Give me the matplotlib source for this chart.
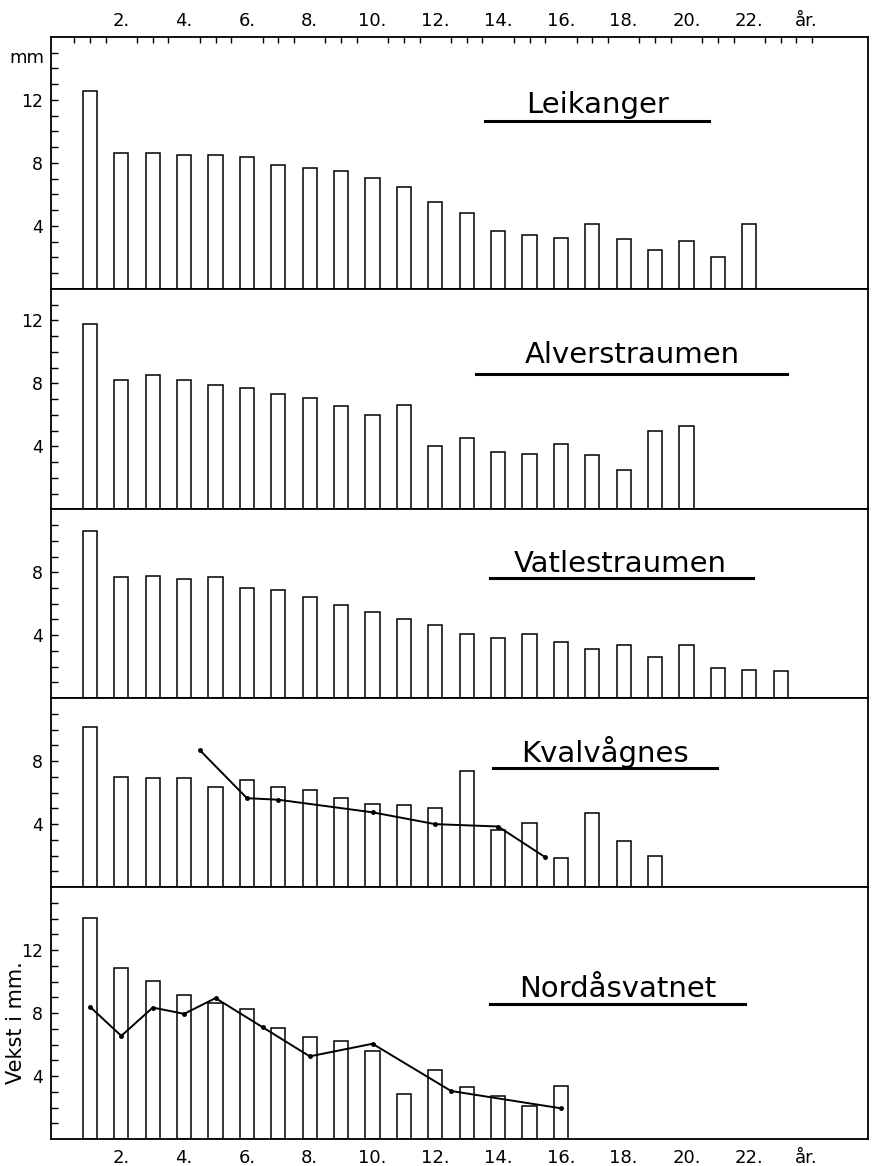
import matplotlib.pyplot as plt
from matplotlib.lines import Line2D
import numpy as np

# growth per year (mm)
leikanger = [12.6, 8.6, 8.6, 8.5, 8.5, 8.4, 7.85, 7.65, 7.5, 7.05, 6.5, 5.5, 4.85,
             3.7, 3.4, 3.25, 4.1, 3.2, 2.45, 3.05, 2.05, 4.15]
alverstraumen = [11.8, 8.2, 8.55, 8.2, 7.9, 7.7, 7.3, 7.05, 6.55, 6.0, 6.6, 4.0,
                 4.55, 3.65, 3.5, 4.15, 3.45, 2.5, 5.0, 5.3]
vatlestraumen = [10.6, 7.7, 7.75, 7.6, 7.7, 7.0, 6.85, 6.4, 5.9, 5.45, 5.0, 4.65,
                 4.1, 3.85, 4.05, 3.6, 3.1, 3.4, 2.6, 3.35, 1.9, 1.8, 1.7]
kvalvagnes = [10.2, 7.0, 6.9, 6.9, 6.35, 6.8, 6.35, 6.15, 5.65, 5.3, 5.2, 5.05,
              7.4, 3.6, 4.1, 1.85, 4.7, 2.9, 2.0]
nordasvatnet = [14.05, 10.85, 10.05, 9.15, 8.65, 8.25, 7.05, 6.5, 6.25, 5.6, 2.85,
                4.4, 3.3, 2.75, 2.1, 3.35]

# the drawn curves in two of the panels
kval_line_x = [4.5, 6, 7, 10, 12, 14, 15.5]
kval_line_y = [8.7, 5.65, 5.55, 4.75, 4.0, 3.85, 1.9]
nord_line_x = [1, 2, 3, 4, 5, 6.5, 8, 10, 12.5, 16]
nord_line_y = [8.4, 6.55, 8.35, 7.95, 8.95, 7.1, 5.25, 6.05, 3.05, 1.95]

names = ['Leikanger', 'Alverstraumen', 'Vatlestraumen', 'Kvalvågnes', 'Nordåsvatnet']
series = [leikanger, alverstraumen, vatlestraumen, kvalvagnes, nordasvatnet]
ytops = [16, 14, 12, 12, 16]

year_ticks = list(range(2, 23, 2)) + [23.8]
year_labels = [f'{y}.' for y in range(2, 23, 2)] + ['år.']

# title placement in figure pixels: centre x, baseline y, underline x0, x1, y
title_pos = [
    (598, 113, 485, 709, 121),
    (632, 363, 476, 787, 374),
    (620, 572, 490, 753, 578),
    (605, 762, 493, 717, 768),
    (618, 997, 490, 745, 1004),
]

W, H = 874, 1166
fig = plt.figure(figsize=(W / 100, H / 100), dpi=100)
gs = fig.add_gridspec(5, 1, height_ratios=ytops, hspace=0,
                      left=51 / W, right=868 / W, top=1 - 37 / H, bottom=1 - 1139 / H)

axes = []
for i, (vals, top) in enumerate(zip(series, ytops)):
    ax = fig.add_subplot(gs[i])
    x = np.arange(1, len(vals) + 1)
    ax.bar(x, vals, width=0.45, color='white', edgecolor='black', linewidth=1.1)

    ax.set_xlim(-0.24, 25.78)
    ax.set_ylim(0, top)

    # y ticks: labels every 4 mm, small marks every mm
    ax.set_yticks([v for v in (4, 8, 12) if v < top])
    ax.set_yticks(np.arange(1, top), minor=True)
    ax.tick_params(axis='y', which='both', direction='in', length=5, width=1,
                   left=True, right=False, labelsize=12.5, pad=5.5)

    for sp in ax.spines.values():
        sp.set_linewidth(1.3)
    axes.append(ax)

# curves
axes[3].plot(kval_line_x, kval_line_y, color='black', lw=1.4, marker='o', ms=2.5)
axes[4].plot(nord_line_x, nord_line_y, color='black', lw=1.4, marker='o', ms=2.5)

# x axes: labelled on top of the first panel and below the last one
for i, ax in enumerate(axes):
    if i == 0:
        ax.set_xticks(year_ticks)
        ax.set_xticklabels(year_labels)
        ax.set_xticks(np.arange(0.5, 24.5, 0.5), minor=True)
        ax.tick_params(axis='x', which='major', length=0)
        ax.tick_params(axis='x', which='minor', direction='in', length=4, width=1)
        ax.tick_params(axis='x', which='both', top=True, bottom=False,
                       labeltop=True, labelbottom=False, labelsize=13, pad=5)
    elif i == 4:
        ax.set_xticks(year_ticks)
        ax.set_xticklabels(year_labels)
        ax.tick_params(axis='x', length=0, labelsize=13, pad=7)
    else:
        ax.set_xticks([])

# station names with underline
for name, (cx, by, u0, u1, uy) in zip(names, title_pos):
    fig.text(cx / W, 1 - by / H, name, ha='center', va='baseline', fontsize=21)
    fig.add_artist(Line2D([u0 / W, u1 / W], [1 - uy / H, 1 - uy / H],
                          transform=fig.transFigure, color='black', lw=2.2))

fig.text(27 / W, 1 - 58 / H, 'mm', ha='center', va='center', fontsize=13)
fig.text(16 / W, 1 - 1023 / H, 'Vekst i mm.', ha='center', va='center',
         rotation=90, fontsize=15)

plt.savefig('out.png', dpi=100)
